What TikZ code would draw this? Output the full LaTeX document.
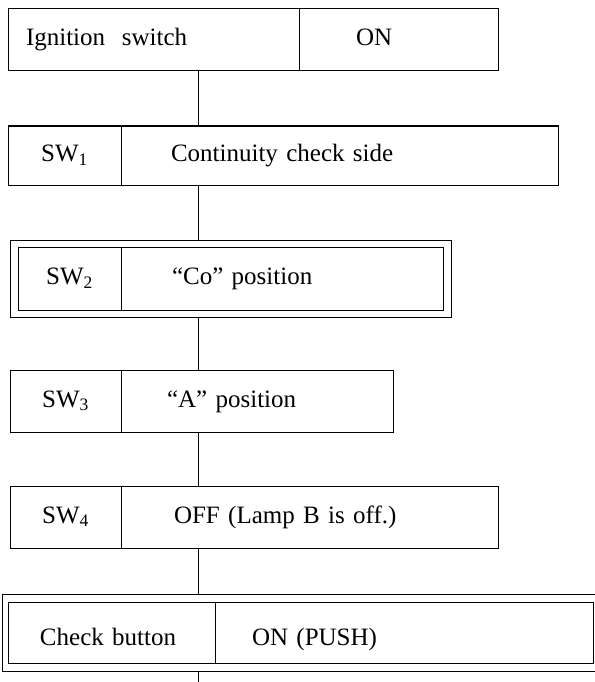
\documentclass[tikz,border=0pt]{standalone}
\usepackage{fontspec}
\setmainfont{Liberation Serif}
\usetikzlibrary{fit}
\newcommand{\lowstrut}{\rule[-9pt]{0pt}{44pt}}
\begin{document}
\begin{tikzpicture}[x=1pt,y=-1pt,
  every path/.style={line width=1pt},
  cell/.style={draw, line width=1pt, anchor=north west, inner sep=0pt, outer sep=0pt,
    font=\fontsize{25}{30}\selectfont},
  lcell/.style={cell, align=left},
  frame/.style={draw, line width=1pt, inner sep=0pt, outer sep=0pt},
  link/.style={draw, line width=1pt}]
\useasboundingbox (0,0) rectangle (594,682);
\fill[white] (0,0) rectangle (594,682);
\coordinate (spine) at (198,0);
\coordinate (tail) at (198,682);
% box 1
\node[lcell, minimum height=62pt, text width=291pt, inner xsep=0pt] (b1l) at (8,9) {\strut\hspace*{18pt}Ignition\ \ switch};
\node[lcell, minimum height=62pt, text width=199pt, inner xsep=0pt] (b1r) at (299,9) {\strut\hspace*{57pt}ON};
% box 2
\node[cell, minimum height=59pt, minimum width=113pt] (b2l) at (8,126) {\strut SW\textsubscript{1}};
\node[lcell, minimum height=59pt, text width=437pt, inner xsep=0pt] (b2r) at (121,126) {\strut\hspace*{50pt}Continuity check side};
% box 3 (double frame)
\node[cell, minimum height=63pt, minimum width=103pt] (b3l) at (18,247) {\strut SW\textsubscript{2}};
\node[lcell, minimum height=63pt, text width=322pt, inner xsep=0pt] (b3r) at (121,247) {\strut\hspace*{51pt}“Co” position};
\node[frame, fit=(b3l)(b3r), inner xsep=8pt, inner ysep=7pt] (b3o) {};
% box 4
\node[cell, minimum height=62pt, minimum width=111pt] (b4l) at (10,370) {\strut SW\textsubscript{3}};
\node[lcell, minimum height=62pt, text width=272pt, inner xsep=0pt] (b4r) at (121,370) {\strut\hspace*{46pt}“A” position};
% box 5
\node[cell, minimum height=62pt, minimum width=111pt] (b5l) at (10,486) {\strut SW\textsubscript{4}};
\node[lcell, minimum height=62pt, text width=377pt, inner xsep=0pt] (b5r) at (121,486) {\strut\hspace*{53pt}OFF (Lamp B is off.)};
% box 6 (double frame)
\node[lcell, minimum height=61pt, text width=207pt, inner xsep=0pt] (b6l) at (8,602) {\lowstrut\hspace*{32pt}Check button};
\node[lcell, minimum height=61pt, text width=378pt, inner xsep=0pt] (b6r) at (215,602) {\lowstrut\hspace*{37pt}ON (PUSH)};
\node[frame, fit=(b6l)(b6r), inner xsep=6pt, inner ysep=8pt] (b6o) {};
% connectors
\draw[link] (b1l.south -| spine) -- (b2r.north -| spine);
\draw[link] (b2r.south -| spine) -- (b3o.north -| spine);
\draw[link] (b3o.south -| spine) -- (b4r.north -| spine);
\draw[link] (b4r.south -| spine) -- (b5r.north -| spine);
\draw[link] (b5r.south -| spine) -- (b6o.north -| spine);
\draw[link] (b6o.south -| spine) -- (tail);
\end{tikzpicture}
\end{document}
